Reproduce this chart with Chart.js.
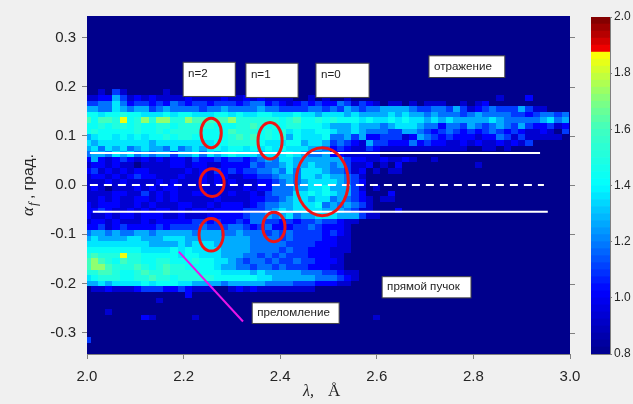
<!DOCTYPE html>
<html>
<head>
<meta charset="utf-8">
<title>chart</title>
<script src="https://cdn.jsdelivr.net/npm/chart.js@4"></script>
<style>
  html, body { margin: 0; padding: 0; background: #f0f0f0; overflow: hidden; }
  #wrap { position: relative; width: 633px; height: 404px; }
  #main { position: absolute; left: 0; top: 0; }
  #bar { position: absolute; left: 570px; top: 0; }
</style>
</head>
<body>
<div id="wrap">
  <canvas id="main" width="633" height="404"></canvas>
  <canvas id="bar" width="63" height="404"></canvas>
</div>
<script>
// axis ticks
const xTicks = [2.0, 2.2, 2.4, 2.6, 2.8, 3.0];
const yTicks = [-0.3, -0.2, -0.1, 0.0, 0.1, 0.2, 0.3];
const barTicks = [0.8, 1.0, 1.2, 1.4, 1.6, 1.8, 2.0];

// detector bins
const lambdaStart = 2.0, lambdaStep = 0.015;
const alphaTop = 0.3434, alphaBottom = -0.343, alphaRows = 60;

// intensity per level character
const levelValues = { 0: 0.8, 1: 0.93, 2: 1.02, 3: 1.1, 4: 1.18, 5: 1.27, 6: 1.36, 7: 1.43, 8: 1.5, 9: 1.6, a: 1.72, b: 1.85 };

// one string per row from the top, one character per column
const intensityRows = [
  "", "", "", "", "", "", "", "", "", "", "", "", "",
  "0010310000 0100000000 0000000000 0000001000 0000000000 0000000000 0000000",
  "1122531212 1111211112 1121211110 0101001000 0000000000 0000000100 0200000",
  "3344642332 3243233233 3234423212 3232243132 1011010111 0010120000 0000000",
  "5544654553 4544443445 4444544333 3443435434 4555543344 3531234333 5311000",
  "7767787766 6767766677 6766776667 6656665655 5565655454 4434544443 3234434",
  "9799 8b78a8 aa88a99999 a888888789 7787877767 6676766565 6555556544 4445645",
  "7787887877 8878888877 7889878788 7776555655 5456665442 4435434543 5322312",
  "7877777877 8788887777 9888787867 6677655654 4433554323 4323234323 2112103",
  "5677676767 7878877777 8989787857 6667445352 2333125432 3222122431 3111110",
  "6566666665 6666666677 8888766677 5665343215 3322242322 1121211212 1300000",
  "5646564565 5464565676 7767676766 6554232113 2111111111 1110011010 0000000",
  "4554656454 5535564656 7666566676 5445221111 1000000000 0000000000 0000000",
  "2521232121 2122132232 3323454665 5555553221 1211210010 0000000000 0000000",
  "1221211011 1122122112 2224344565 5655453112 0102000000 0000100000 0000000",
  "2312121221 1111212132 3233445464 6665443120 1011000000 0000000000 0000000",
  "1221212322 1112112122 1122334554 6656554310 0000000000 0000000000 0000000",
  "1112121111 2121112121 2111223454 5666654320 0000000000 0000000000 0000000",
  "1210111212 1221111111 1121224445 5667555310 1000000000 0000000000 0000000",
  "1111221131 2121122111 2112134446 6767655320 0020000000 0000000000 0000000",
  "1121211221 2121111121 1112233456 6566454321 0110000000 0000000000 0000000",
  "2122211212 1112211212 2212344556 6674545431 0000000000 0000000000 0000000",
  "2232112121 2212122122 2233345656 6665554311 0002000000 0000000000 0000000",
  "2112122122 2112111222 2234454564 5566655531 1000000000 0000000000 0000000",
  "1221211121 2222233232 2324433232 3343321100 0000000000 0000000000 0000000",
  "2231232222 3233334333 4432342223 3432221000 0000000000 0000000000 0000000",
  "4554544554 5555545554 4544434343 3332321000 0000000000 0000000000 0000000",
  "5655556655 5666555555 5554444343 3332211000 0000000000 0000000000 0000000",
  "6666666665 5556566655 5554444433 3322211000 0000000000 0000000000 0000000",
  "7777777766 6676766665 5554444343 3222111000 0000000000 0000000000 0000000",
  "89888b8877 7776776665 5544343433 3222110000 0000000000 0000000000 0000000",
  "9a98798877 8877787766 5434434334 3322210000 0000000000 0000000000 0000000",
  "9aa9888987 8988777765 5443443433 3222110000 0000000000 0000000000 0000000",
  "8899877898 8988887776 6665655555 4443321100 0000000000 0000000000 0000000",
  "6788877889 8878888877 7777665555 5544432100 0000000000 0000000000 0000000",
  "5565666676 7776655554 5555544443 3322211000 0000000000 0000000000 0000000",
  "0112111233 3223211100 1212111111 1100000000 0000000000 0000000000 0000000",
  "0000000000 0000200000 0000000000",
  "0000000000 1000000000 0000000000",
  "",
  "0001000000 0000000000 0000000000",
  "0000000021 0000010000 0000000000 0000000000 1000000000",
  "", "", "",
  "3000000000",
  "", ""
];

// jet-like colour map of the bar, with the hard yellow to red step near the top
const mapValues = [0.8, 1.02, 1.2, 1.4, 1.6, 1.7, 1.87];
const mapColors = [[0, 0, 140], [0, 0, 255], [0, 128, 255], [0, 255, 255], [64, 255, 191], [128, 255, 128], [255, 255, 0]];
const redValues = [1.875, 1.93, 2.0];
const redColors = [[255, 0, 0], [190, 0, 0], [120, 0, 0]];

// overlays, in axis units
const upperLine = [[2.006, 0.065], [2.938, 0.065]];
const centreLine = [[2.006, 0.0], [2.946, 0.0]];
const lowerLine = [[2.012, -0.054], [2.954, -0.054]];
const refractionLine = [[2.19, -0.135], [2.323, -0.277]];

const ringX = [2.257, 2.379, 2.259, 2.487, 2.257, 2.387];
const ringY = [0.106, 0.090, 0.005, 0.007, -0.101, -0.085];
const ringHalfX = [0.021, 0.025, 0.025, 0.054, 0.025, 0.023];
const ringHalfY = [0.030, 0.037, 0.028, 0.069, 0.033, 0.030];

const noteTexts = ["n=2", "n=1", "n=0", "отражение", "прямой пучок", "преломление"];
const noteLeft = [2.199, 2.329, 2.474, 2.708, 2.611, 2.342];
const noteRight = [2.307, 2.437, 2.584, 2.865, 2.795, 2.522];
const noteTop = [0.2495, 0.2475, 0.2475, 0.2625, -0.186, -0.239];
const noteBottom = [0.18, 0.178, 0.178, 0.2185, -0.229, -0.281];

function colorFor(v) {
  let vals = v >= redValues[0] ? redValues : mapValues;
  let cols = v >= redValues[0] ? redColors : mapColors;
  let i = 0;
  while (i < vals.length - 2 && v > vals[i + 1]) i++;
  let t = Math.min(1, Math.max(0, (v - vals[i]) / (vals[i + 1] - vals[i])));
  let c = cols[i].map((a, k) => Math.round(a + (cols[i + 1][k] - a) * t));
  return `rgb(${c[0]},${c[1]},${c[2]})`;
}

function lineSet(pts, color, dash) {
  return {
    data: pts.map(p => ({ x: p[0], y: p[1] })),
    showLine: true,
    pointRadius: 0,
    borderColor: color,
    borderWidth: 2,
    borderDash: dash || []
  };
}

const heatmap = {
  id: 'heatmap',
  beforeDatasetsDraw(chart) {
    let { ctx, chartArea: area, scales: { x, y } } = chart;
    let rowStep = (alphaTop - alphaBottom) / alphaRows;
    ctx.save();
    ctx.beginPath();
    ctx.rect(area.left, area.top, area.width, area.height);
    ctx.clip();
    ctx.fillStyle = colorFor(levelValues[0]);
    ctx.fillRect(area.left, area.top, area.width, area.height);
    intensityRows.forEach((row, r) => {
      let cells = row.replace(/ /g, '');
      let y0 = Math.round(y.getPixelForValue(alphaTop - r * rowStep));
      let y1 = Math.round(y.getPixelForValue(alphaTop - (r + 1) * rowStep));
      for (let j = 0; j < cells.length; j++) {
        if (cells[j] === '0') continue;
        let centre = lambdaStart + j * lambdaStep;
        let x0 = Math.round(x.getPixelForValue(centre - lambdaStep / 2));
        let x1 = Math.round(x.getPixelForValue(centre + lambdaStep / 2));
        ctx.fillStyle = colorFor(levelValues[cells[j]]);
        ctx.fillRect(x0, y0, x1 - x0, y1 - y0);
      }
    });
    ctx.restore();
  }
};

const overlays = {
  id: 'overlays',
  afterDraw(chart) {
    let { ctx, chartArea: area, scales: { x, y } } = chart;
    ctx.save();

    // ticks on the right side of the plot
    ctx.strokeStyle = '#808080';
    ctx.lineWidth = 1;
    yTicks.forEach(v => {
      let py = Math.round(y.getPixelForValue(v)) + 0.5;
      ctx.beginPath();
      ctx.moveTo(area.right, py);
      ctx.lineTo(area.right + 5, py);
      ctx.stroke();
    });

    ctx.strokeStyle = '#f01414';
    ctx.lineWidth = 3;
    ringX.forEach((rx, i) => {
      let cx = x.getPixelForValue(rx), cy = y.getPixelForValue(ringY[i]);
      let a = x.getPixelForValue(rx + ringHalfX[i]) - cx;
      let b = cy - y.getPixelForValue(ringY[i] + ringHalfY[i]);
      ctx.beginPath();
      ctx.ellipse(cx, cy, a, b, 0, 0, Math.PI * 2);
      ctx.stroke();
    });

    noteTexts.forEach((t, i) => {
      let x0 = x.getPixelForValue(noteLeft[i]), x1 = x.getPixelForValue(noteRight[i]);
      let y0 = y.getPixelForValue(noteTop[i]), y1 = y.getPixelForValue(noteBottom[i]);
      ctx.fillStyle = '#fff';
      ctx.fillRect(x0, y0, x1 - x0, y1 - y0);
      ctx.strokeStyle = '#444';
      ctx.lineWidth = 1;
      ctx.strokeRect(x0, y0, x1 - x0, y1 - y0);
      ctx.fillStyle = '#222';
      ctx.font = '11.6px "Liberation Sans"';
      ctx.textAlign = 'left';
      ctx.textBaseline = 'middle';
      ctx.fillText(t, x0 + 5, i < 3 ? y0 + 12 : (y0 + y1) / 2);
    });

    // axis titles, drawn in pieces for the subscript and the mixed fonts
    ctx.fillStyle = '#262626';
    ctx.textBaseline = 'alphabetic';
    ctx.textAlign = 'left';
    ctx.font = 'italic 16px "Liberation Serif"';
    ctx.fillText('λ,', 303, 396);
    ctx.font = '17px "Liberation Serif"';
    ctx.fillText('Å', 328, 396);

    ctx.translate(33, 216);
    ctx.rotate(-Math.PI / 2);
    ctx.font = 'italic 17px "Liberation Serif"';
    ctx.fillText('α', 0, 0);
    ctx.font = 'italic 13px "Liberation Serif"';
    ctx.fillText('f', 10, 4);
    ctx.font = '15.5px "Liberation Sans"';
    ctx.fillText(', град.', 17, 0);
    ctx.restore();
  }
};

function tickFont(size) {
  return { family: '"Liberation Sans"', size: size };
}

new Chart(document.getElementById('main'), {
  type: 'scatter',
  data: {
    datasets: [
      lineSet(upperLine, '#ffffff'),
      lineSet(centreLine, '#ffffff', [8, 6]),
      lineSet(lowerLine, '#ffffff'),
      lineSet(refractionLine, '#e815e8')
    ]
  },
  plugins: [heatmap, overlays],
  options: {
    responsive: false,
    animation: false,
    layout: { padding: { top: 16, right: 63, left: 0, bottom: 0 } },
    plugins: { legend: { display: false }, tooltip: { enabled: false } },
    scales: {
      x: {
        type: 'linear',
        min: 2.0,
        max: 3.0,
        afterFit(s) { s.height = 50; },
        afterBuildTicks(s) { s.ticks = xTicks.map(v => ({ value: v })); },
        grid: { drawOnChartArea: false, color: '#808080', tickLength: 5 },
        border: { color: '#808080' },
        ticks: { color: '#262626', font: tickFont(15), padding: 9, maxRotation: 0, autoSkip: false,
                 callback: v => v.toFixed(1) }
      },
      y: {
        type: 'linear',
        min: alphaBottom,
        max: alphaTop,
        afterFit(s) { s.width = 87; },
        afterBuildTicks(s) { s.ticks = yTicks.map(v => ({ value: v })); },
        grid: { drawOnChartArea: false, color: '#808080', tickLength: 5 },
        border: { color: '#808080' },
        ticks: { color: '#262626', font: tickFont(15), padding: 6, autoSkip: false,
                 callback: v => v.toFixed(1) }
      }
    }
  }
});

// colour bar: one floating bar per colour step
let barSets = [];
for (let i = 0; i < 48; i++) {
  let lo = 0.8 + i * 0.025, hi = lo + 0.025;
  barSets.push({
    data: [[lo, hi]],
    backgroundColor: colorFor((lo + hi) / 2),
    barPercentage: 1,
    categoryPercentage: 1,
    grouped: false
  });
}

new Chart(document.getElementById('bar'), {
  type: 'bar',
  data: { labels: [''], datasets: barSets },
  options: {
    responsive: false,
    animation: false,
    layout: { padding: { top: 17, left: 21, right: 0, bottom: 0 } },
    plugins: { legend: { display: false }, tooltip: { enabled: false } },
    scales: {
      x: {
        display: true,
        afterFit(s) { s.height = 50; },
        grid: { display: false },
        ticks: { display: false },
        border: { color: '#808080' }
      },
      y: {
        position: 'right',
        min: 0.8,
        max: 2.0,
        afterFit(s) { s.width = 23; },
        afterBuildTicks(s) { s.ticks = barTicks.map(v => ({ value: v })); },
        grid: { drawOnChartArea: false, color: '#808080', tickLength: 2 },
        border: { color: '#808080' },
        ticks: { color: '#262626', font: tickFont(12), padding: 2, autoSkip: false,
                 callback: v => v.toFixed(1) }
      }
    }
  }
});
</script>
</body>
</html>
